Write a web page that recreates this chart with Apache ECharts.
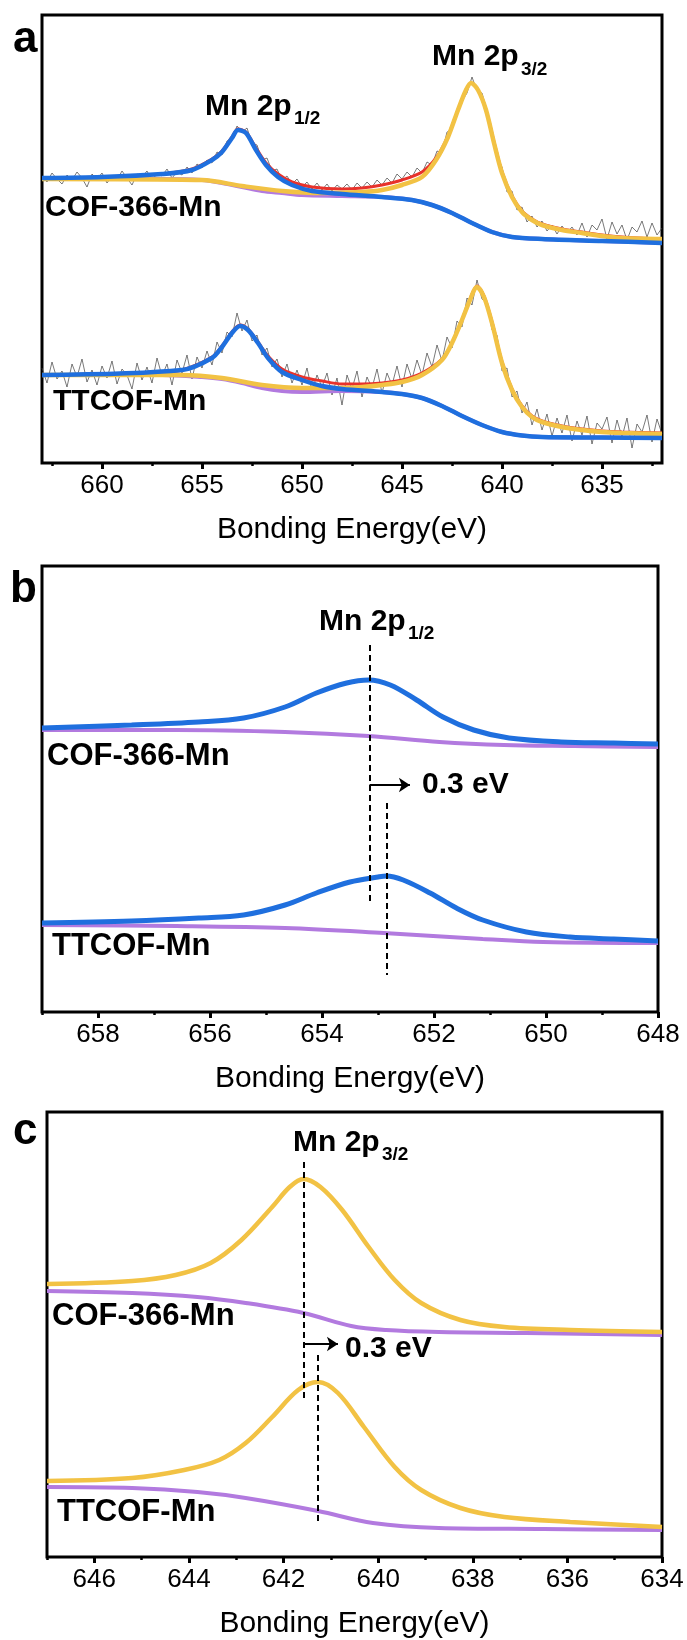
<!DOCTYPE html>
<html><head><meta charset="utf-8">
<script src="https://cdn.jsdelivr.net/npm/echarts@6/dist/echarts.min.js"></script>
<style>html,body{margin:0;padding:0;background:#fff}#c{width:687px;height:1640px}</style>
</head><body><div id="c"></div>
<script>
// ---------- tick labels ----------
const ticksA = [635, 640, 645, 650, 655, 660];
const minorA = [632.5, 637.5, 642.5, 647.5, 652.5, 657.5, 662.5];
const ticksB = [648, 650, 652, 654, 656, 658];
const minorB = [649, 651, 653, 655, 657, 659];
const ticksC = [634, 636, 638, 640, 642, 644, 646];
const minorC = [635, 637, 639, 641, 643, 645, 647];
const axisTitle = 'Bonding Energy(eV)';
const sampleNames = ['COF-366-Mn', 'TTCOF-Mn'];

// ---------- panel a : COF-366-Mn (upper) ----------
const rawA1 = [[663,287],[662.75,281],[662.5,290],[662.25,284],[662,279],[661.75,288],[661.5,283],[661.25,291],[661,285],[660.75,276],[660.5,289],[660.25,284],[660,290],[659.75,280],[659.5,287],[659.25,283],[659,292],[658.75,285],[658.5,278],[658.25,289],[658,286],[657.75,292],[657.5,282],[657.25,290],[657,287],[656.75,294],[656.5,285],[656.25,291],[656,288],[655.75,296],[655.5,290],[655.25,299],[655,295],[654.75,303],[654.5,300],[654.25,311],[654,308],[653.75,322],[653.5,324],[653.25,337],[653,331],[652.75,335],[652.5,320],[652.25,318],[652,303],[651.75,305],[651.5,292],[651.25,294],[651,283],[650.75,287],[650.5,279],[650.25,284],[650,276],[649.75,281],[649.5,274],[649.25,280],[649,273],[648.75,279],[648.5,272],[648.25,278],[648,274],[647.75,279],[647.5,273],[647.25,280],[647,275],[646.75,281],[646.5,276],[646.25,283],[646,278],[645.75,285],[645.5,280],[645.25,289],[645,284],[644.75,291],[644.5,286],[644.25,295],[644,290],[643.75,301],[643.5,298],[643.25,312],[643,310],[642.75,331],[642.5,333],[642.25,352],[642,362],[641.75,370],[641.5,386],[641.25,372],[641,370],[640.75,352],[640.5,333],[640.25,305],[640,296],[639.75,271],[639.5,272],[639.25,253],[639,256],[638.75,241],[638.5,247],[638.25,236],[638,242],[637.75,232],[637.5,238],[637.25,229],[637,237],[636.75,230],[636.5,236],[636.25,228],[636,240],[635.75,226],[635.5,238],[635.25,233],[635,244],[634.75,224],[634.5,241],[634.25,229],[634,238],[633.75,223],[633.5,236],[633.25,231],[633,242],[632.75,226],[632.5,240],[632.25,228],[632,235]];
const envA1 = [[663,285],[660,286],[657,289],[655.5,294],[654.5,304],[654,312],[653.5,326],[653.2,334],[652.8,331],[652.3,315],[651.8,300],[651.2,289],[650.5,281],[649.5,276],[648,274],[647,275],[646,278],[645,283],[644,291],[643.3,305],[642.7,327],[642.2,353],[641.8,373],[641.55,380],[641.2,373],[640.8,353],[640.4,321],[640,291],[639.5,267],[639,252],[638.5,244],[638,239],[637,234],[636,231],[635,228],[634,226],[632,224]];
const p12A1 = [[663,285],[660,286],[657,289],[655.5,293],[654.5,303],[654,311],[653.5,325],[653.2,333],[652.8,330],[652.3,313],[651.8,298],[651.2,286],[650.5,278],[649.5,272],[648,269],[646,266],[644.5,263],[643.5,258],[642.5,250],[641.5,240],[640.5,231],[639.5,226],[638,224],[635,222],[632,220]];
const bgA1 = [[663,284],[657,284],[655,283],[654,280],[653,276],[652,272],[651,270],[650,268],[648,267],[646,266],[644.5,263],[643.5,258],[642.5,250],[641.5,240],[640.5,231],[639.5,226],[638,224],[635,222],[632,220]];
const p32A1 = [[663,284],[655,283],[653,277],[651,272],[649,270],[647,271],[646,273],[645,278],[644,286],[643.3,303],[642.7,326],[642.2,353],[641.8,373],[641.55,380],[641.2,373],[640.8,353],[640.4,320],[640,290],[639.5,266],[639,251],[638.5,243],[638,238],[637,233],[636,230],[635,227],[634,225],[632,224]];

// ---------- panel a : TTCOF-Mn (lower) ----------
const rawA2 = [[663,95],[662.75,80],[662.5,101],[662.25,84],[662,92],[661.75,76],[661.5,99],[661.25,86],[661,104],[660.75,81],[660.5,93],[660.25,78],[660,97],[659.75,85],[659.5,102],[659.25,79],[659,94],[658.75,88],[658.5,74],[658.25,100],[658,83],[657.75,96],[657.5,80],[657.25,105],[657,87],[656.75,99],[656.5,78],[656.25,103],[656,90],[655.75,108],[655.5,84],[655.25,106],[655,95],[654.75,112],[654.5,98],[654.25,121],[654,110],[653.75,131],[653.5,126],[653.25,150],[653,132],[652.75,143],[652.5,122],[652.25,128],[652,108],[651.75,115],[651.5,96],[651.25,104],[651,86],[650.75,99],[650.5,80],[650.25,93],[650,78],[649.75,95],[649.5,72],[649.25,88],[649,76],[648.75,90],[648.5,68],[648.25,85],[648,58],[647.75,88],[647.5,74],[647.25,92],[647,66],[646.75,86],[646.5,75],[646.25,94],[646,70],[645.75,90],[645.5,78],[645.25,97],[645,76],[644.75,99],[644.5,84],[644.25,103],[644,88],[643.75,110],[643.5,96],[643.25,118],[643,102],[642.75,126],[642.5,115],[642.25,142],[642,136],[641.75,165],[641.5,158],[641.25,183],[641,164],[640.75,160],[640.5,133],[640.25,128],[640,92],[639.75,95],[639.5,66],[639.25,72],[639,50],[638.75,61],[638.5,38],[638.25,54],[638,33],[637.75,49],[637.5,27],[637.25,45],[637,30],[636.75,48],[636.5,22],[636.25,42],[636,28],[635.75,47],[635.5,19],[635.25,40],[635,34],[634.75,46],[634.5,20],[634.25,43],[634,26],[633.75,45],[633.5,15],[633.25,39],[633,31],[632.75,48],[632.5,21],[632.25,44],[632,29]];
const envA2 = [[663,88],[660,89],[657,91],[656,93],[654.5,106],[654,117],[653.5,131],[653.1,138],[652.7,134],[652.2,121],[651.7,107],[651,94],[650,86],[649,82],[648,79],[647,79],[646,80],[645,83],[644,90],[643,104],[642.5,120],[642,143],[641.6,164],[641.25,177],[640.9,167],[640.5,141],[640,101],[639.5,74],[639,57],[638.5,47],[638,42],[637,37],[636,34],[635,32],[634,31],[632,30]];
const p12A2 = [[663,88],[656,93],[654.5,105],[654,116],[653.5,130],[653.1,137],[652.7,133],[652.2,120],[651.7,105],[651,91],[650,83],[649,77],[648,74],[646,71],[645,69],[644,65],[643,57],[642,47],[641,38],[640,31],[639,27.5],[638,26],[635,25.5],[632,25]];
const bgA2 = [[663,88],[657,88],[655,86],[654,84],[653,80],[652,75],[651,72],[650,71],[648,72],[646,71],[645,69],[644,65],[643,57],[642,47],[641,38],[640,31],[639,27.5],[638,26],[635,25.5],[632,25]];
const p32A2 = [[663,88],[656,88],[654,85],[652,78],[650,75],[648,75],[647,76],[646,78],[645,81],[644,88],[643,103],[642.5,120],[642,143],[641.6,163],[641.25,176],[640.9,166],[640.5,140],[640,100],[639.5,73],[639,56],[638.5,46],[638,41],[637,36],[636,33],[635,31],[634,30],[632,29]];

// ---------- panel b : Mn 2p1/2 ----------
const p12B1 = [[659,284],[657.4,287],[656.2,290],[655.4,294],[654.66,305],[654.1,319],[653.56,329],[653.17,332],[652.78,327],[652.31,312],[651.84,295],[651.29,282],[650.66,274],[649.73,270],[648.79,269],[648,268]];
const bgB1 = [[659,282],[656.6,282],[654.66,280],[653.17,276],[651.9,270],[650.75,267],[649.5,266],[648,265]];
const p12B2 = [[659,89],[657.4,91],[656.2,94],[655.4,97],[654.66,107],[654.1,119],[653.5,130],[653,135],[652.85,136],[652.55,132],[652.07,119],[651.6,104],[651.13,92],[650.35,80],[649.57,75],[648.79,73],[648,71]];
const bgB2 = [[659,87],[656.6,86],[654.66,84],[652.9,79],[651.13,73],[650.05,70],[648,69]];
const peaksB = [653.15, 652.85];

// ---------- panel c : Mn 2p3/2 ----------
const p32C1 = [[647,273],[645.2,276],[644.28,282],[643.54,294],[642.89,317],[642.24,350],[641.87,370],[641.58,378],[641.22,370],[640.76,347],[640.2,310],[639.65,277],[639.09,254],[638.26,237],[637.33,230],[635.94,227],[634,225]];
const bgC1 = [[647,266],[645.2,264],[643.82,260],[642.8,254],[641.58,244],[640.57,231],[639.83,227],[638.72,225],[636.87,224],[634,222]];
const p32C2 = [[647,76],[645.2,79],[644.1,87],[643.36,97],[642.8,114],[642.24,140],[641.69,167],[641.27,175],[640.85,164],[640.3,130],[639.65,90],[639.09,67],[638.26,49],[637.33,40],[635.94,35],[634,30]];
const bgC2 = [[647,70],[645.2,69],[643.82,65],[642.8,59],[641.27,46],[640.11,34],[638.72,29],[636.5,28],[634,27]];
const peaksC = [641.58, 641.27];

// ---------- styling ----------
const FONT = '"Liberation Sans", Arial, sans-serif';
const BLUE = '#1f6fde', YEL = '#f2c244', PUR = '#b27adf', RED = '#e8322b', RAW = '#404040';

const grids = [
  {left: 42, top: 15, width: 620, height: 448},
  {left: 42, top: 566, width: 616, height: 446},
  {left: 47, top: 1112, width: 615, height: 445}
].map(g => Object.assign(g, {show: true, borderColor: '#000', borderWidth: 3, backgroundColor: 'transparent', containLabel: false}));

const ranges = [[632, 663, ticksA, minorA], [648, 659, ticksB, minorB], [634, 647, ticksC, minorC]];
const xAxes = [];
ranges.forEach((r, i) => {
  xAxes.push({
    type: 'value', gridIndex: i, min: r[0], max: r[1], inverse: true, position: 'bottom',
    axisLine: {show: false}, splitLine: {show: false},
    axisTick: {show: true, inside: false, length: 6, customValues: r[2], lineStyle: {color: '#000', width: 3}},
    axisLabel: {show: true, customValues: r[2], margin: 10, fontSize: 26, color: '#000', fontFamily: FONT},
    name: axisTitle, nameLocation: 'middle', nameGap: 52,
    nameTextStyle: {fontSize: 30, color: '#000', fontFamily: FONT}
  });
});
ranges.forEach((r, i) => {
  xAxes.push({
    type: 'value', gridIndex: i, min: r[0], max: r[1], inverse: true, position: 'bottom',
    axisLine: {show: false}, splitLine: {show: false},
    axisTick: {show: true, inside: false, length: 3, customValues: r[3], lineStyle: {color: '#000', width: 2.5}},
    axisLabel: {show: false}
  });
});
const yMax = [448, 446, 445];
const yAxes = yMax.map((m, i) => ({type: 'value', gridIndex: i, min: 0, max: m, show: false}));

function line(data, ax, color, width, smooth, z, extra) {
  return Object.assign({
    type: 'line', xAxisIndex: ax, yAxisIndex: ax, data: data, showSymbol: false, symbol: 'none',
    smooth: smooth, lineStyle: {color: color, width: width}, z: z, silent: true, animation: false
  }, extra || {});
}
function dashed(x, y1, y2) {
  return [{coord: [x, y1], symbol: 'none'}, {coord: [x, y2], symbol: 'none'}];
}
function arrow(x1, x2, y) {
  return [{coord: [x1, y], symbol: 'none', lineStyle: {type: 'solid', width: 2}},
          {coord: [x2, y], symbol: 'arrow', symbolSize: [11, 11]}];
}
const mlBase = {silent: true, animation: false, label: {show: false},
  lineStyle: {color: '#000', width: 2, type: [6, 4]}, symbol: ['none', 'none'], emphasis: {disabled: true}};

const series = [
  line(rawA1, 0, RAW, 0.7, false, 1), line(envA1, 0, RED, 3, 0.3, 2), line(bgA1, 0, PUR, 4, 0.3, 3),
  line(p32A1, 0, YEL, 4.5, 0.3, 4), line(p12A1, 0, BLUE, 4.5, 0.3, 5),
  line(rawA2, 0, RAW, 0.7, false, 1), line(envA2, 0, RED, 3, 0.3, 2), line(bgA2, 0, PUR, 4, 0.3, 3),
  line(p32A2, 0, YEL, 4.5, 0.3, 4), line(p12A2, 0, BLUE, 4.5, 0.3, 5),
  line(bgB1, 1, PUR, 4, 0.35, 3), line(p12B1, 1, BLUE, 5, 0.35, 4),
  line(bgB2, 1, PUR, 4, 0.35, 3), line(p12B2, 1, BLUE, 5, 0.35, 4, {
    markLine: Object.assign({}, mlBase, {data: [
      dashed(peaksB[0], 367, 107), dashed(peaksB[1], 209, 37), arrow(peaksB[0], 652.43, 227)]})
  }),
  line(bgC1, 2, PUR, 4, 0.35, 3), line(p32C1, 2, YEL, 4.5, 0.35, 4),
  line(bgC2, 2, PUR, 4, 0.35, 3), line(p32C2, 2, YEL, 4.5, 0.35, 4, {
    markLine: Object.assign({}, mlBase, {data: [
      dashed(peaksC[0], 395, 155), dashed(peaksC[1], 202, 34), arrow(peaksC[0], 640.85, 213)]})
  })
];

function T(text, x, y, size, bold) {
  return {type: 'text', x: x, y: y, silent: true, z: 100,
    style: {text: text, font: (bold ? 'bold ' : '') + size + 'px ' + FONT, fill: '#000', align: 'left', verticalAlign: 'middle'}};
}
const graphics = [
  T('a', 13, 40, 44, true), T('b', 10, 590, 44, true), T('c', 13, 1132, 44, true),
  T('Mn 2p', 432, 57, 30, true), T('3/2', 521, 70, 19, true),
  T('Mn 2p', 205, 107, 30, true), T('1/2', 294, 119, 19, true),
  T(sampleNames[0], 45, 208, 30, true), T(sampleNames[1], 53, 402, 30, true),
  T('Mn 2p', 319, 622, 30, true), T('1/2', 408, 634, 19, true),
  T('0.3 eV', 422, 785, 30, true),
  T(sampleNames[0], 47, 756, 31, true), T(sampleNames[1], 52, 946, 31, true),
  T('Mn 2p', 293, 1143, 30, true), T('3/2', 382, 1155, 19, true),
  T('0.3 eV', 345, 1349, 30, true),
  T(sampleNames[0], 52, 1316, 31, true), T(sampleNames[1], 57, 1512, 31, true)
];

const chart = echarts.init(document.getElementById('c'), null, {renderer: 'canvas'});
chart.setOption({
  animation: false, backgroundColor: '#fff',
  textStyle: {fontFamily: FONT},
  grid: grids, xAxis: xAxes, yAxis: yAxes, series: series, graphic: graphics
});
</script></body></html>
